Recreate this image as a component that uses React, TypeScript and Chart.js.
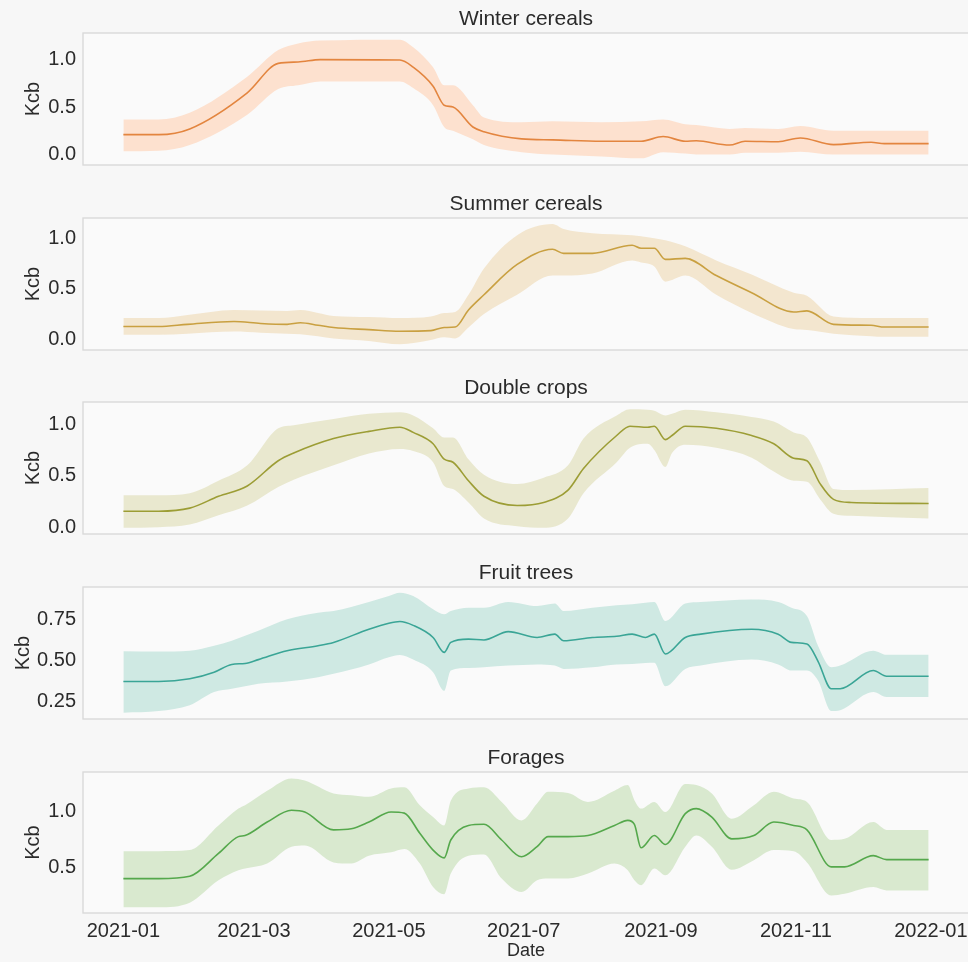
import React, { useEffect, useRef } from "react";
import { Chart, registerables } from "chart.js";

Chart.register(...registerables);

// X axis: days since 2021-01-01
const TICK_DAYS = [0, 59, 120, 181, 243, 304, 365];
const TICK_LABELS = ["2021-01", "2021-03", "2021-05", "2021-07", "2021-09", "2021-11", "2022-01"];
const X_MIN = -18.25;
const X_MAX = 382.25;

// Winter cereals
const winterDays = [0, 16, 30, 56, 70, 79, 89, 125, 131, 140, 145, 149, 158, 163, 180, 194, 216, 234, 244, 254, 259, 274, 281, 296, 306, 321, 338, 344, 364];
const winterMean = [0.21, 0.21, 0.27, 0.65, 0.96, 0.975, 1.0, 0.995, 0.92, 0.72, 0.52, 0.5, 0.29, 0.24, 0.165, 0.155, 0.14, 0.14, 0.19, 0.14, 0.145, 0.1, 0.14, 0.135, 0.175, 0.105, 0.13, 0.115, 0.115];
const winterUpper = [0.37, 0.37, 0.44, 0.82, 1.1, 1.17, 1.2, 1.21, 1.13, 0.92, 0.73, 0.73, 0.52, 0.39, 0.34, 0.35, 0.34, 0.35, 0.37, 0.32, 0.31, 0.27, 0.28, 0.27, 0.3, 0.25, 0.25, 0.25, 0.25];
const winterLower = [0.035, 0.04, 0.1, 0.42, 0.69, 0.73, 0.77, 0.77, 0.7, 0.52, 0.29, 0.25, 0.16, 0.1, 0.025, 0.0, -0.02, -0.04, 0.025, 0.01, 0.0, 0.0, 0.02, 0.02, 0.03, 0.0, 0.0, 0.0, 0.0];

// Summer cereals
const summerDays = [0, 16, 29, 50, 62, 74, 80, 88, 95, 111, 125, 139, 145, 150, 156, 163, 178, 194, 199, 212, 230, 234, 240, 245, 254, 268, 284, 303, 309, 321, 338, 344, 364];
const summerMean = [0.126, 0.126, 0.147, 0.175, 0.156, 0.147, 0.163, 0.138, 0.116, 0.095, 0.079, 0.085, 0.116, 0.12, 0.29, 0.44, 0.74, 0.89, 0.85, 0.85, 0.93, 0.9, 0.9, 0.79, 0.8, 0.63, 0.46, 0.27, 0.28, 0.147, 0.138, 0.12, 0.12];
const summerUpper = [0.21, 0.21, 0.24, 0.29, 0.285, 0.28, 0.29, 0.26, 0.23, 0.22, 0.21, 0.225, 0.26, 0.27, 0.44, 0.7, 1.03, 1.14, 1.09, 1.05, 1.03, 1.02, 1.0, 0.98, 0.92, 0.78, 0.64, 0.46, 0.43, 0.225, 0.21, 0.21, 0.21];
const summerLower = [0.045, 0.045, 0.055, 0.076, 0.065, 0.055, 0.05, 0.03, 0.008, -0.017, -0.05, -0.008, 0.02, 0.008, 0.116, 0.25, 0.44, 0.63, 0.63, 0.65, 0.78, 0.76, 0.72, 0.57, 0.63, 0.44, 0.26, 0.1, 0.09, 0.054, 0.03, 0.023, 0.023];

// Double crops
const doubleDays = [0, 16, 30, 43, 56, 70, 77, 95, 111, 125, 131, 140, 145, 149, 156, 163, 178, 190, 201, 208, 223, 229, 237, 240, 245, 248, 254, 268, 284, 294, 303, 309, 315, 321, 329, 364];
const doubleMean = [0.155, 0.155, 0.185, 0.3, 0.4, 0.645, 0.72, 0.86, 0.93, 0.97, 0.92, 0.81, 0.66, 0.63, 0.45, 0.3, 0.21, 0.24, 0.36, 0.57, 0.89, 0.98, 0.97, 0.98, 0.85, 0.89, 0.98, 0.96, 0.89, 0.81, 0.67, 0.645, 0.42, 0.27, 0.24, 0.23];
const doubleUpper = [0.31, 0.31, 0.33, 0.45, 0.6, 0.96, 0.99, 1.05, 1.1, 1.115, 1.085, 0.96, 0.87, 0.87, 0.66, 0.51, 0.42, 0.48, 0.6, 0.86, 1.085, 1.145, 1.14, 1.13, 1.085, 1.1, 1.14, 1.115, 1.07, 1.025, 0.92, 0.87, 0.63, 0.37, 0.36, 0.38];
const doubleLower = [-0.005, 0.0, 0.025, 0.115, 0.21, 0.39, 0.46, 0.6, 0.715, 0.76, 0.74, 0.63, 0.4, 0.37, 0.24, 0.085, 0.01, -0.005, 0.085, 0.33, 0.63, 0.77, 0.81, 0.75, 0.585, 0.72, 0.8, 0.77, 0.675, 0.54, 0.45, 0.44, 0.27, 0.13, 0.11, 0.085];

// Fruit trees
const fruitDays = [0, 16, 30, 41, 49, 55, 61, 74, 88, 95, 111, 120, 125, 131, 140, 145, 148, 156, 163, 174, 187, 195, 199, 212, 223, 230, 236, 240, 245, 254, 261, 284, 296, 302, 309, 314, 320, 324, 339, 345, 364];
const fruitMean = [0.374, 0.374, 0.39, 0.43, 0.477, 0.483, 0.506, 0.56, 0.59, 0.61, 0.69, 0.726, 0.736, 0.713, 0.64, 0.55, 0.61, 0.63, 0.625, 0.675, 0.64, 0.66, 0.62, 0.64, 0.647, 0.66, 0.64, 0.66, 0.54, 0.64, 0.66, 0.69, 0.66, 0.61, 0.6, 0.496, 0.33, 0.33, 0.44, 0.405, 0.405];
const fruitUpper = [0.557, 0.555, 0.56, 0.59, 0.62, 0.65, 0.68, 0.75, 0.79, 0.8, 0.855, 0.89, 0.91, 0.89, 0.81, 0.78, 0.8, 0.82, 0.82, 0.855, 0.83, 0.845, 0.8, 0.82, 0.835, 0.84, 0.85, 0.855, 0.74, 0.845, 0.855, 0.87, 0.855, 0.82, 0.77, 0.59, 0.46, 0.47, 0.56, 0.535, 0.535];
const fruitLower = [0.185, 0.195, 0.23, 0.31, 0.33, 0.345, 0.36, 0.374, 0.4, 0.42, 0.477, 0.52, 0.534, 0.506, 0.43, 0.317, 0.44, 0.455, 0.46, 0.47, 0.477, 0.47, 0.45, 0.46, 0.477, 0.48, 0.485, 0.487, 0.345, 0.45, 0.47, 0.506, 0.477, 0.44, 0.44, 0.38, 0.195, 0.2, 0.31, 0.28, 0.28];

// Forages
const forageDays = [0, 16, 30, 43, 52, 55, 65, 76, 82, 95, 103, 111, 121, 127, 134, 140, 145, 148, 156, 163, 171, 180, 187, 192, 201, 210, 222, 228, 231, 234, 240, 245, 254, 259, 266, 275, 285, 294, 303, 309, 320, 326, 339, 345, 364];
const forageMean = [0.405, 0.405, 0.426, 0.63, 0.78, 0.79, 0.91, 1.015, 1.0, 0.84, 0.85, 0.91, 1.0, 0.99, 0.81, 0.66, 0.59, 0.75, 0.88, 0.89, 0.75, 0.6, 0.69, 0.78, 0.78, 0.79, 0.88, 0.925, 0.89, 0.68, 0.79, 0.71, 0.985, 1.03, 0.955, 0.76, 0.79, 0.91, 0.88, 0.84, 0.51, 0.51, 0.61, 0.575, 0.575];
const forageUpper = [0.65, 0.65, 0.66, 0.88, 1.03, 1.06, 1.19, 1.3, 1.28, 1.165, 1.15, 1.135, 1.21, 1.22, 1.06, 0.955, 0.88, 1.1, 1.21, 1.22, 1.09, 0.925, 1.075, 1.18, 1.17, 1.09, 1.19, 1.24, 1.105, 1.03, 1.09, 1.0, 1.25, 1.24, 1.165, 0.94, 1.06, 1.18, 1.12, 1.09, 0.75, 0.76, 0.91, 0.84, 0.84];
const forageLower = [0.15, 0.15, 0.19, 0.39, 0.48, 0.495, 0.54, 0.69, 0.7, 0.55, 0.54, 0.61, 0.64, 0.67, 0.54, 0.33, 0.265, 0.45, 0.61, 0.62, 0.405, 0.285, 0.39, 0.405, 0.405, 0.45, 0.54, 0.48, 0.39, 0.345, 0.495, 0.435, 0.69, 0.79, 0.69, 0.485, 0.57, 0.66, 0.65, 0.55, 0.255, 0.27, 0.33, 0.3, 0.3];

// Y ticks per panel
const ticksA = [0, 0.5, 1.0];
const ticksFruit = [0.25, 0.5, 0.75];
const ticksForage = [0.5, 1.0];

const FONT = "'Liberation Sans', Arial, Helvetica, sans-serif";
const TEXT = "#2b2b2b";

const PLOT_TOPS = [33, 218, 402, 587, 772];
const PLOT_H = 141;
const TITLE_SPACE = 33;
const Y_AXIS_W = 83;
const CANVAS_W = 975;

const panels = [
  { title: "Winter cereals", days: winterDays, mean: winterMean, upper: winterUpper, lower: winterLower, line: "#e3853f", fill: "#fde1cf", yMin: -0.11, yMax: 1.28, yTicks: ticksA, dec: 1, kcbPad: 21 },
  { title: "Summer cereals", days: summerDays, mean: summerMean, upper: summerUpper, lower: summerLower, line: "#c9a041", fill: "#f3e6cf", yMin: -0.107, yMax: 1.2, yTicks: ticksA, dec: 1, kcbPad: 21 },
  { title: "Double crops", days: doubleDays, mean: doubleMean, upper: doubleUpper, lower: doubleLower, line: "#9c9d35", fill: "#e9e8cf", yMin: -0.066, yMax: 1.215, yTicks: ticksA, dec: 1, kcbPad: 21 },
  { title: "Fruit trees", days: fruitDays, mean: fruitMean, upper: fruitUpper, lower: fruitLower, line: "#3aa596", fill: "#cfe9e3", yMin: 0.147, yMax: 0.945, yTicks: ticksFruit, dec: 2, kcbPad: 11 },
  { title: "Forages", days: forageDays, mean: forageMean, upper: forageUpper, lower: forageLower, line: "#55a84c", fill: "#d9e9cf", yMin: 0.098, yMax: 1.357, yTicks: ticksForage, dec: 1, kcbPad: 21 },
];

const framePlugin = {
  id: "frame",
  beforeDraw(chart: any) {
    const { ctx, chartArea } = chart;
    if (!chartArea) return;
    ctx.save();
    ctx.fillStyle = "#fafafa";
    ctx.fillRect(chartArea.left, chartArea.top, chartArea.right - chartArea.left, chartArea.bottom - chartArea.top);
    ctx.restore();
  },
  afterDraw(chart: any) {
    const { ctx, chartArea } = chart;
    if (!chartArea) return;
    ctx.save();
    ctx.strokeStyle = "#d8d8d8";
    ctx.lineWidth = 1.3;
    ctx.strokeRect(chartArea.left, chartArea.top, chartArea.right - chartArea.left, chartArea.bottom - chartArea.top);
    ctx.restore();
  },
};

function Panel({ p, index }: { p: any; index: number }) {
  const ref = useRef<HTMLCanvasElement | null>(null);
  const isLast = index === panels.length - 1;
  const height = isLast ? 962 - (PLOT_TOPS[index] - TITLE_SPACE) : 184;

  useEffect(() => {
    if (!ref.current) return;
    const pts = (arr: number[]) => p.days.map((d: number, i: number) => ({ x: d, y: arr[i] }));
    const chart = new Chart(ref.current, {
      type: "line",
      data: {
        datasets: [
          { data: pts(p.upper), borderWidth: 0, borderColor: "rgba(0,0,0,0)", pointRadius: 0, fill: false, order: 1, cubicInterpolationMode: "monotone" },
          { data: pts(p.lower), borderWidth: 0, borderColor: "rgba(0,0,0,0)", backgroundColor: p.fill, pointRadius: 0, fill: "-1", order: 1, cubicInterpolationMode: "monotone" },
          { data: pts(p.mean), borderWidth: 1.6, borderColor: p.line, pointRadius: 0, fill: false, order: 0, cubicInterpolationMode: "monotone" },
        ],
      } as any,
      options: {
        responsive: false,
        animation: false,
        devicePixelRatio: 1,
        events: [],
        layout: { padding: { left: 0, right: CANVAS_W - 969, top: 0, bottom: isLast ? 0 : height - TITLE_SPACE - PLOT_H } },
        plugins: {
          legend: { display: false },
          tooltip: { enabled: false },
          filler: { drawTime: "beforeDatasetsDraw" },
          title: {
            display: true,
            text: p.title,
            fullSize: false,
            color: TEXT,
            font: { family: FONT, size: 21, weight: "normal" },
            padding: { top: 7, bottom: 0.8 },
          },
        },
        scales: {
          x: {
            type: "linear",
            min: X_MIN,
            max: X_MAX,
            display: isLast,
            grid: { display: false, drawTicks: false },
            border: { display: false },
            afterBuildTicks: (s: any) => {
              s.ticks = TICK_DAYS.map((v) => ({ value: v }));
            },
            afterFit: (s: any) => {
              if (isLast) s.height = 962 - PLOT_TOPS[index] - PLOT_H;
            },
            ticks: {
              autoSkip: false,
              maxRotation: 0,
              padding: 6,
              color: TEXT,
              font: { family: FONT, size: 20 },
              callback: (v: any) => {
                const i = TICK_DAYS.indexOf(Number(v));
                return i >= 0 ? TICK_LABELS[i] : "";
              },
            },
            title: {
              display: true,
              text: "Date",
              color: TEXT,
              font: { family: FONT, size: 18 },
              padding: { top: 0, bottom: 0 },
            },
          },
          y: {
            type: "linear",
            min: p.yMin,
            max: p.yMax,
            grid: { display: false, drawTicks: false },
            border: { display: false },
            afterBuildTicks: (s: any) => {
              s.ticks = p.yTicks.map((v: number) => ({ value: v }));
            },
            afterFit: (s: any) => {
              s.width = Y_AXIS_W;
            },
            ticks: {
              padding: 7,
              color: TEXT,
              font: { family: FONT, size: 20 },
              callback: (v: any) => Number(v).toFixed(p.dec),
            },
            title: {
              display: true,
              text: "Kcb",
              color: TEXT,
              font: { family: FONT, size: 20 },
              padding: { top: p.kcbPad, bottom: 0 },
            },
          },
        },
      } as any,
      plugins: [framePlugin],
    });
    return () => chart.destroy();
  }, []);

  return (
    <canvas
      ref={ref}
      width={CANVAS_W}
      height={height}
      style={{ position: "absolute", left: 0, top: PLOT_TOPS[index] - TITLE_SPACE, width: CANVAS_W, height }}
    />
  );
}

export default function App() {
  return (
    <div
      style={{
        position: "absolute",
        left: 0,
        top: 0,
        width: 968,
        height: 962,
        overflow: "hidden",
        background: "#f7f7f7",
      }}
    >
      {panels.map((p, i) => (
        <Panel key={p.title} p={p} index={i} />
      ))}
    </div>
  );
}
